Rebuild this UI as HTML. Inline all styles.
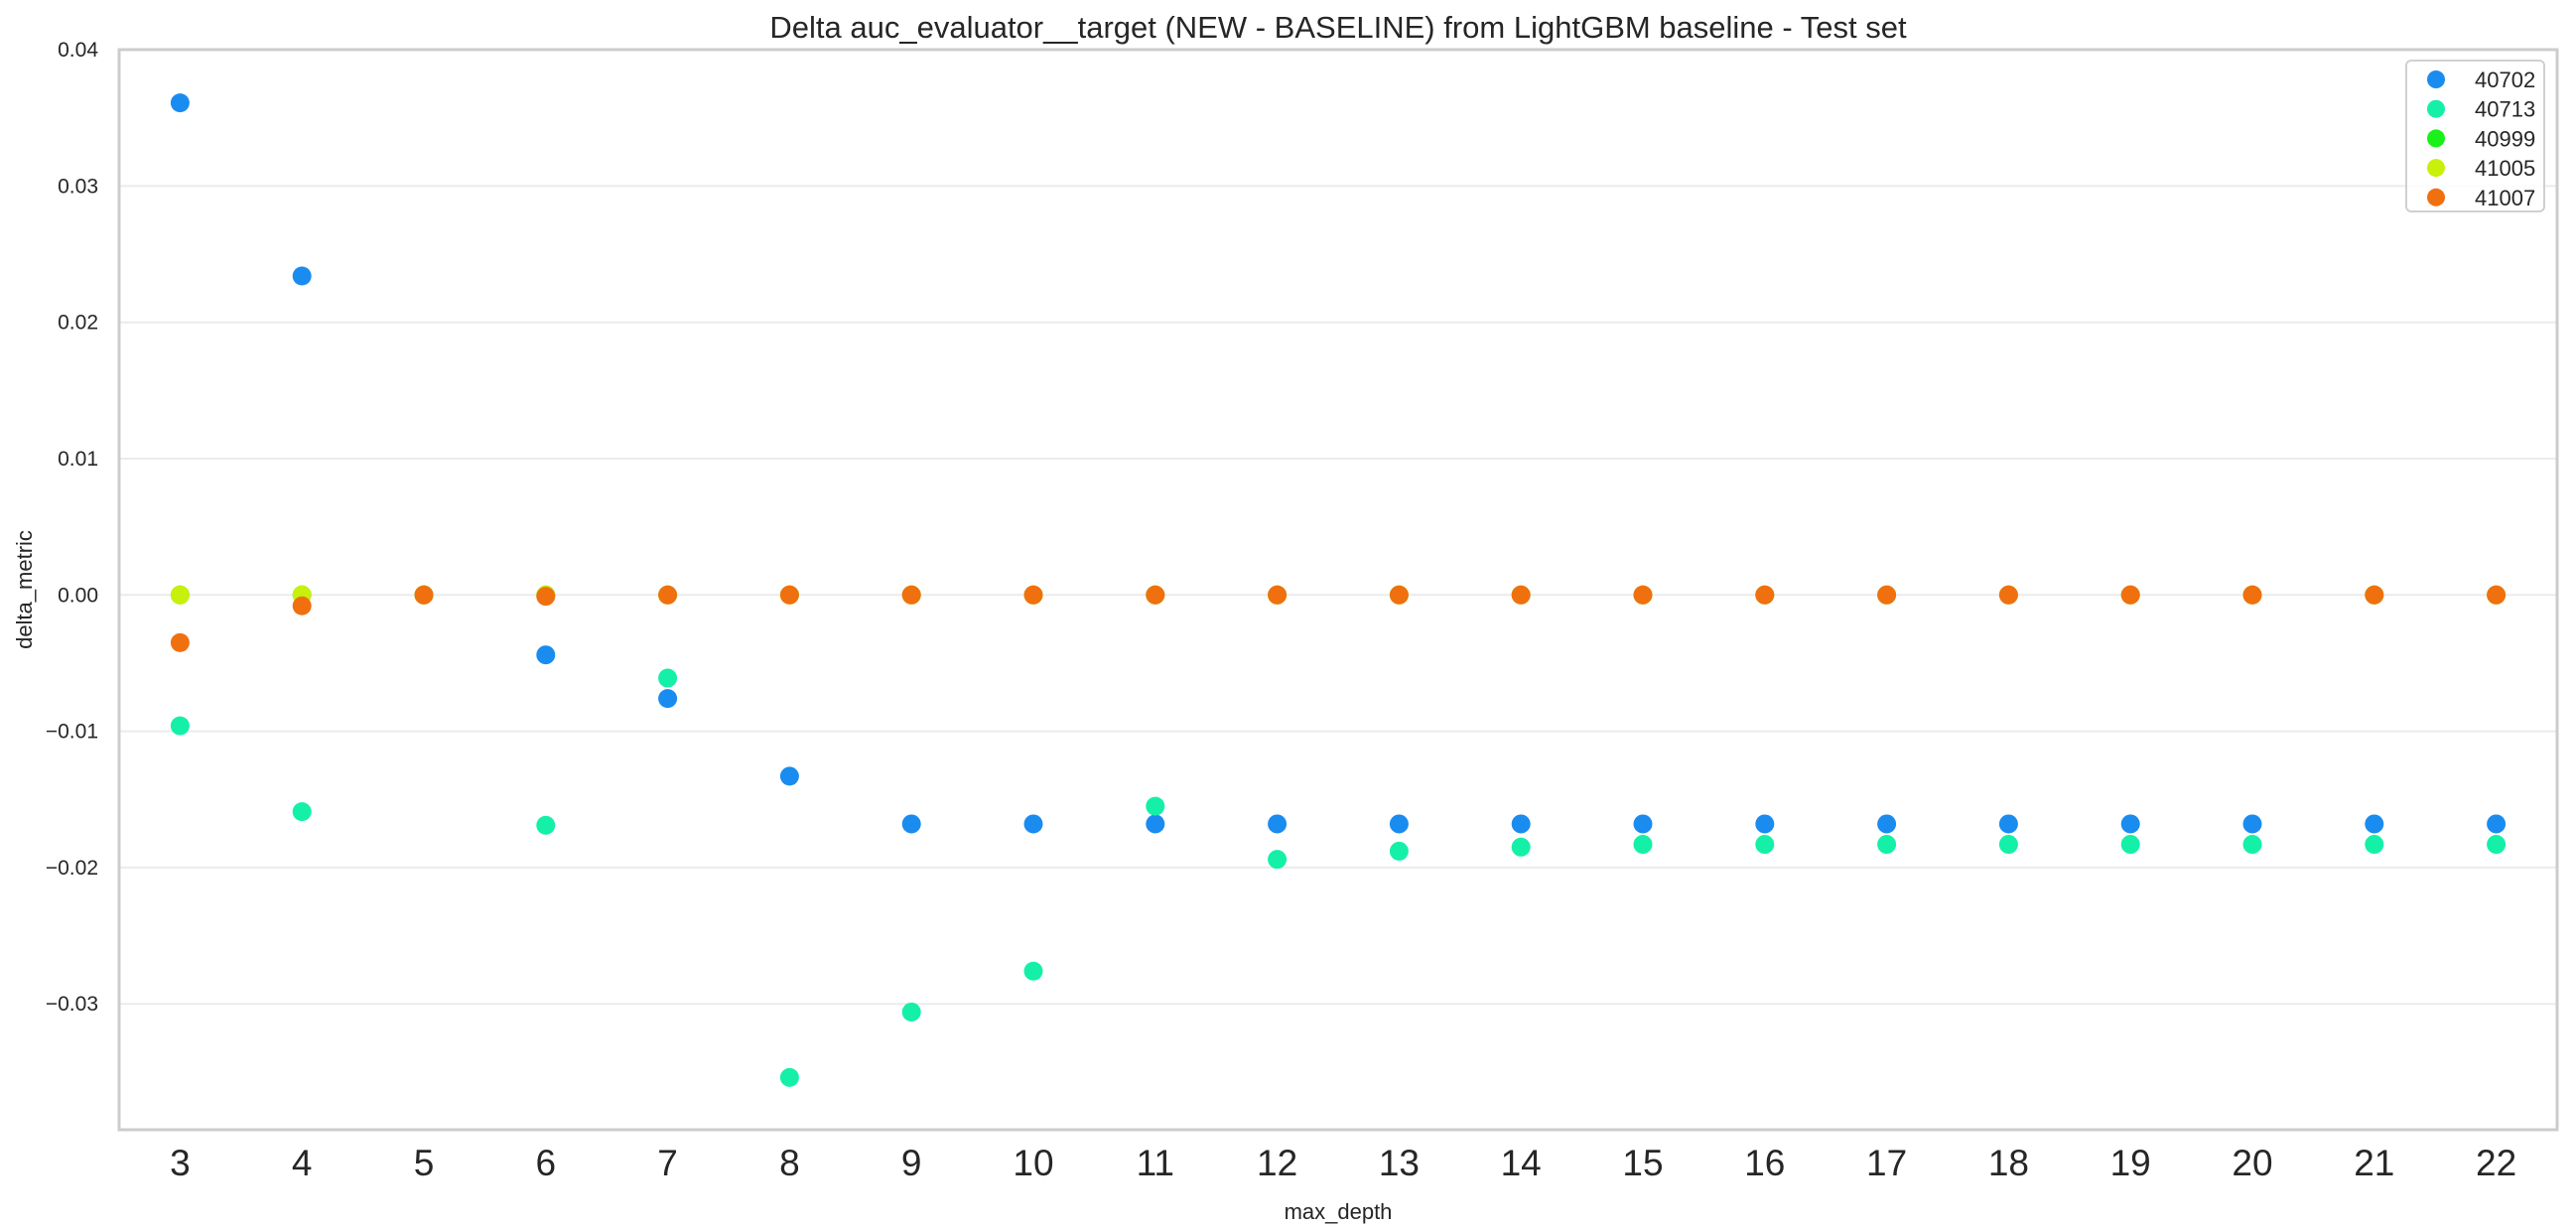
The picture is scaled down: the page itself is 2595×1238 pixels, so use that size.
<!DOCTYPE html>
<html><head><meta charset="utf-8"><style>
html,body{margin:0;padding:0;background:#fff;}
svg{display:block;font-family:"Liberation Sans",Arial,sans-serif;}
</style></head><body>
<svg id="chart" width="2595" height="1238" viewBox="0 0 2595 1238" xmlns="http://www.w3.org/2000/svg">
<text x="1348" y="38" font-size="31" text-anchor="middle" fill="#262626">Delta auc_evaluator__target (NEW - BASELINE) from LightGBM baseline - Test set</text>
<g id="grid"></g>
<g id="yticks"></g>
<g id="xticks"></g>
<g id="points"></g>
<rect x="120" y="50" width="2456" height="1088" fill="none" stroke="#cccccc" stroke-width="3"/>
<text x="1348" y="1228" font-size="22" text-anchor="middle" fill="#262626">max_depth</text>
<text x="32" y="594" font-size="22" text-anchor="middle" fill="#262626" transform="rotate(-90 32 594)">delta_metric</text>
<g id="legend"></g>
</svg>
<script>
const categories = [3,4,5,6,7,8,9,10,11,12,13,14,15,16,17,18,19,20,21,22];
const seriesNames = ["40702","40713","40999","41005","41007"];
const seriesColors = ["#1a8cf0","#14f0a8","#1af01a","#c8f00a","#f0700f"];
const s40702 = [0.0361,0.0234,0,-0.0044,-0.0076,-0.0133,-0.0168,-0.0168,-0.0168,-0.0168,-0.0168,-0.0168,-0.0168,-0.0168,-0.0168,-0.0168,-0.0168,-0.0168,-0.0168,-0.0168];
const s40713 = [-0.0096,-0.0159,0,-0.0169,-0.0061,-0.0354,-0.0306,-0.0276,-0.0155,-0.0194,-0.0188,-0.0185,-0.0183,-0.0183,-0.0183,-0.0183,-0.0183,-0.0183,-0.0183,-0.0183];
const s40999 = [0,0,0,0,0,0,0,0,0,0,0,0,0,0,0,0,0,0,0,0];
const s41005 = [0,0,0,0,0,0,0,0,0,0,0,0,0,0,0,0,0,0,0,0];
const s41007 = [-0.0035,-0.0008,0,-0.0001,0,0,0,0,0,0,0,0,0,0,0,0,0,0,0,0];
const yTicks = [-0.03,-0.02,-0.01,0.00,0.01,0.02,0.03,0.04];
const yTickLabels = ["\u22120.03","\u22120.02","\u22120.01","0.00","0.01","0.02","0.03","0.04"];

const NS="http://www.w3.org/2000/svg";
const L=120,R=2576,T=50,B=1138;
const step=(R-L)/categories.length;
function xPos(i){return L+step*(i+0.5);}
function yPos(v){return 599.3 - v*13730;}
function mk(tag,attrs,parent){const e=document.createElementNS(NS,tag);for(const k in attrs)e.setAttribute(k,attrs[k]);parent.appendChild(e);return e;}

const grid=document.getElementById('grid'),yt=document.getElementById('yticks'),xt=document.getElementById('xticks'),pts=document.getElementById('points'),lg=document.getElementById('legend');
yTicks.forEach((v,i)=>{
  const y=yPos(v);
  const g=mk('line',{x1:L,x2:R,y1:y,y2:y,stroke:'#ebebeb','stroke-width':2},grid);
  
  
  const t=mk('text',{x:99,y:y+7,'font-size':21,'text-anchor':'end',fill:'#262626'},yt);
  t.textContent=yTickLabels[i];
  
  
});
categories.forEach((c,i)=>{
  const t=mk('text',{x:xPos(i),y:1184,'font-size':37,'text-anchor':'middle',fill:'#262626'},xt);
  t.textContent=c;
  
  
});
const allSeries=[s40702,s40713,s40999,s41005,s41007];
allSeries.forEach((s,si)=>{
  s.forEach((v,i)=>{
    const c=mk('circle',{cx:xPos(i),cy:yPos(v),r:9.5,fill:seriesColors[si]},pts);
    
    
  });
});
const box=mk('rect',{x:2424,y:61,width:139,height:152,rx:5,fill:'#fff','fill-opacity':0.85,stroke:'#d0d0d0','stroke-width':2},lg);


seriesNames.forEach((n,i)=>{
  const y=80+i*29.7;
  const c=mk('circle',{cx:2454,cy:y,r:9,fill:seriesColors[i]},lg);
  
  
  const t=mk('text',{x:2493,y:y+8,'font-size':22,fill:'#262626'},lg);
  t.textContent=n;
  
  
});
</script>
</body></html>
